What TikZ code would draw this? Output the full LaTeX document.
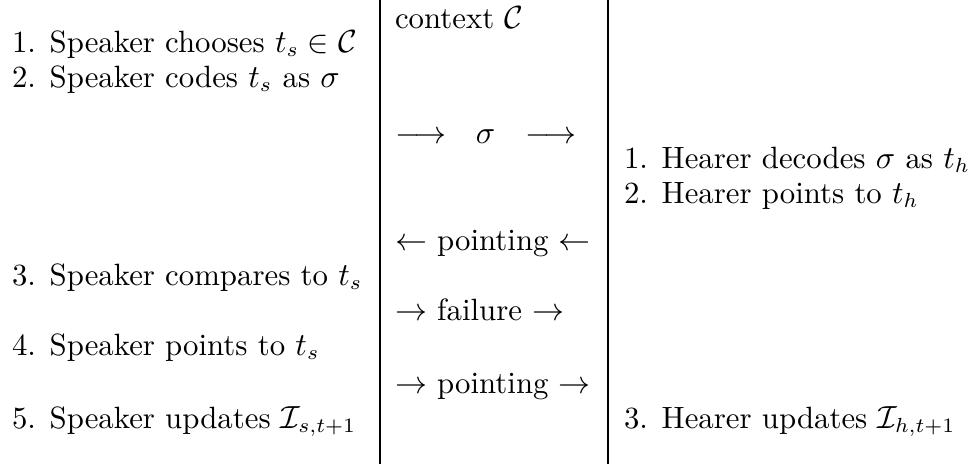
\documentclass[tikz,border=0pt]{standalone}
\begin{document}
\begin{tikzpicture}[x=0.3425pt,y=-0.3425pt,
  txt/.style={anchor=base west,inner sep=0pt,outer sep=0pt,font=\fontsize{10.55pt}{13pt}\selectfont},
  rule/.style={line width=0.35pt}]
\useasboundingbox (0,0) rectangle (977,464);
% column rules
\draw[rule] (380,0) -- (380,464);
\draw[rule] (608,0) -- (608,464);
% left column (speaker)
\node[txt] (s1) at (12,52) {1. Speaker chooses $t_s\in\mathcal{C}$};
\node[txt] (s2) at (12,87) {2. Speaker codes $t_s$ as $\sigma$};
\node[txt] (s3) at (12,285) {3. Speaker compares to $t_s$};
\node[txt] (s4) at (12,355) {4. Speaker points to $t_s$};
\node[txt] (s5) at (12,428) {5. Speaker updates $\mathcal{I}_{s,t+1}$};
% middle column (channel)
\node[txt] (m0) at (395,28) {context $\mathcal{C}$};
\node[txt] (m1) at (395,143) {$\longrightarrow\hspace{7pt}\sigma\hspace{7.2pt}\longrightarrow$};
\node[txt] (m2) at (395,250) {$\leftarrow$ pointing $\leftarrow$};
\node[txt] (m3) at (395,320) {$\rightarrow$ failure $\rightarrow$};
\node[txt] (m4) at (395,393) {$\rightarrow$ pointing $\rightarrow$};
% right column (hearer)
\node[txt] (h1) at (624,168) {1. Hearer decodes $\sigma$ as $t_h$};
\node[txt] (h2) at (624,203) {2. Hearer points to $t_h$};
\node[txt] (h3) at (624,428) {3. Hearer updates $\mathcal{I}_{h,t+1}$};
\end{tikzpicture}
\end{document}
